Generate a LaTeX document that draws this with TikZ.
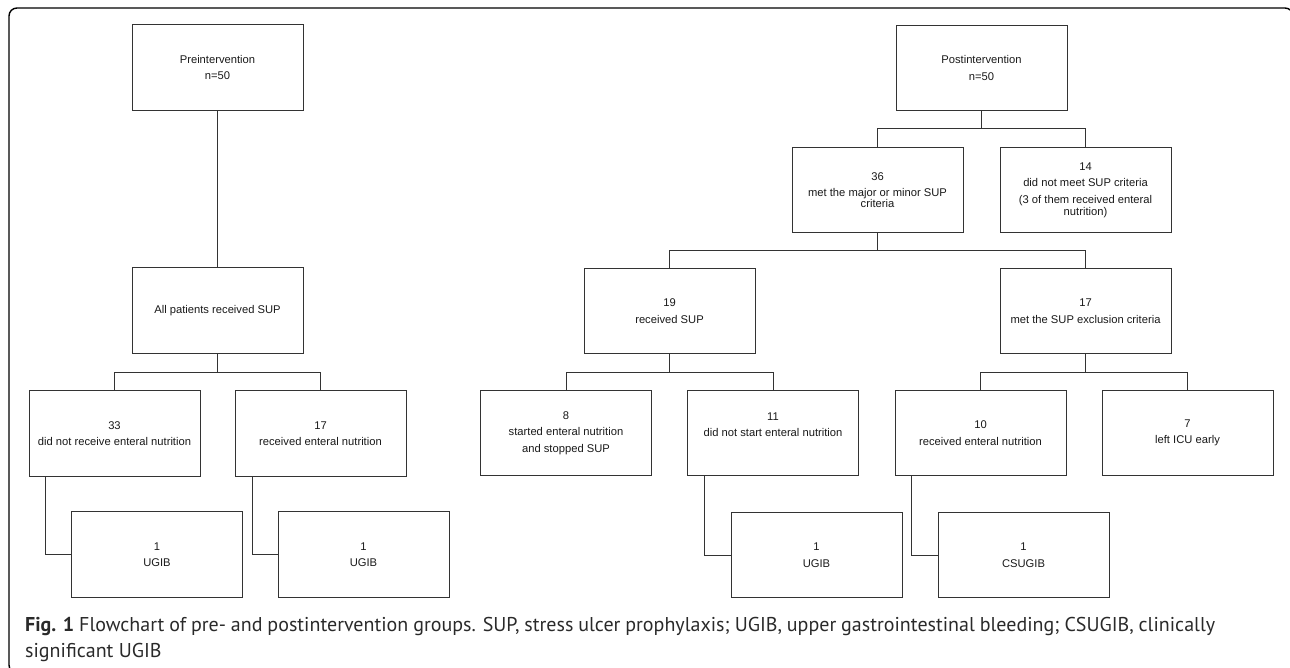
\documentclass[tikz,border=0pt]{standalone}
\usepackage{fontspec}
\setmainfont{Liberation Sans}
\newfontfamily\capfont{PT Sans}
\usetikzlibrary{calc}
\definecolor{boxgray}{HTML}{333333}
\definecolor{captext}{HTML}{2A2A2A}
\begin{document}
\begin{tikzpicture}[x=1pt,y=-1pt,
  box/.style={draw=boxgray, line width=1pt, minimum width=171pt, minimum height=85.5pt,
    inner sep=0pt, align=center, font=\fontsize{11.2}{16.5}\selectfont, text=black!90},
  wire/.style={draw=boxgray, line width=1pt},
  captxt/.style={anchor=base west, inner sep=0pt, text=captext, font=\capfont\fontsize{20}{26}\selectfont}]
\useasboundingbox (0,0) rectangle (1290,668);
\begin{scope}
\clip (0,0) rectangle (1290,668);
\draw[line width=1.4pt, rounded corners=8pt] (9,8) rectangle (1293,673);
\end{scope}

% Preintervention branch
\node[box] (pre) at (217.5,67.5) {Preintervention\\n=50};
\node[box] (all) at (217.5,310.5) {All patients received SUP};
\node[box] (b33) at (114.5,433.5) {33\\did not receive enteral nutrition};
\node[box] (b17l) at (320.5,433.5) {17\\received enteral nutrition};
\node[box] (u1) at (157,554.5) {1\\UGIB};
\node[box] (u2) at (363.5,554.5) {1\\UGIB};

% Postintervention branch
\node[box] (post) at (981.5,68) {Postintervention\\n=50};
\node[box] (b36) at (877.5,190) {36\\met the major or minor SUP\\[-5.5pt]criteria};
\node[box] (b14) at (1085.5,190) {14\\did not meet SUP criteria\\(3 of them received enteral\\[-4.5pt]nutrition)};
\node[box] (b19) at (669.5,311) {19\\received SUP};
\node[box] (b17e) at (1085.5,311) {17\\met the SUP exclusion criteria};
\node[box] (b8) at (566,433) {8\\started enteral nutrition\\and stopped SUP};
\node[box] (b11) at (773,433) {11\\did not start enteral nutrition\\\mbox{}};
\node[box] (b10) at (980.5,433) {10\\received enteral nutrition};
\node[box] (b7) at (1187.5,433) {7\\left ICU early};
\node[box] (u3) at (816.5,555) {1\\UGIB};
\node[box] (cs) at (1023.5,555) {1\\CSUGIB};

% connectors, pre
\draw[wire] (pre.south) -- (all.north);
\coordinate (j1) at ($(all.south)!0.5!(all.south |- b33.north)$);
\draw[wire] (all.south) -- (j1) -| (b33.north);
\draw[wire] (j1) -| (b17l.north);
\draw[wire] ([xshift=17pt]b33.south west) |- (u1.west);
\draw[wire] ([xshift=18pt]b17l.south west) |- (u2.west);

% connectors, post
\coordinate (j2) at ($(post.south)!0.5!(post.south |- b36.north)$);
\draw[wire] (post.south) -- (j2) -| (b36.north);
\draw[wire] (j2) -| (b14.north);
\coordinate (j3) at ($(b36.south)!0.5!(b36.south |- b19.north)$);
\draw[wire] (b36.south) -- (j3) -| (b19.north);
\draw[wire] (j3) -| (b17e.north);
\coordinate (j4) at ($(b19.south)!0.5!(b19.south |- b8.north)$);
\draw[wire] (b19.south) -- (j4) -| (b8.north);
\draw[wire] (j4) -| (b11.north);
\coordinate (j5) at ($(b17e.south)!0.5!(b17e.south |- b10.north)$);
\draw[wire] (b17e.south) -- (j5) -| (b10.north);
\draw[wire] (j5) -| (b7.north);
\draw[wire] ([xshift=17pt]b11.south west) |- (u3.west);
\draw[wire] ([xshift=16.5pt]b10.south west) |- (cs.west);

% caption
\node[captxt] (cap1) at (25,631) {\makebox[1190pt][s]{\textbf{Fig. 1} Flowchart of pre- and postintervention groups. SUP, stress ulcer prophylaxis; UGIB, upper gastrointestinal bleeding; CSUGIB, clinically}};
\node[captxt] (cap2) at (25,657) {significant UGIB};
\end{tikzpicture}
\end{document}
